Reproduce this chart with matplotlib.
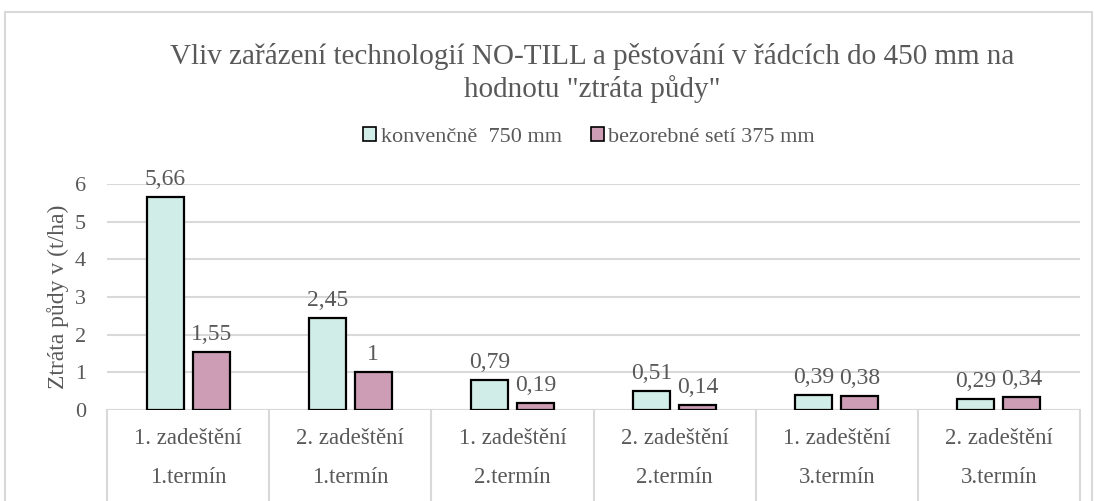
import matplotlib
matplotlib.use("Agg")
import matplotlib.pyplot as plt
from matplotlib.patches import Patch, Rectangle
from matplotlib.transforms import blended_transform_factory
import numpy as np

plt.rcParams['font.family'] = ['Liberation Serif', 'DejaVu Serif']

inner_labels = ["1. zadeštění", "2. zadeštění", "1. zadeštění", "2. zadeštění", "1. zadeštění", "2. zadeštění"]
outer_labels = ["1.termín", "1.termín", "2.termín", "2.termín", "3.termín", "3.termín"]
series_names = ["konvenčně  750 mm", "bezorebné setí 375 mm"]
conv = [5.66, 2.45, 0.79, 0.51, 0.39, 0.29]
bezor = [1.55, 1.0, 0.19, 0.14, 0.38, 0.34]
conv_labels = ["5,66", "2,45", "0,79", "0,51", "0,39", "0,29"]
bezor_labels = ["1,55", "1", "0,19", "0,14", "0,38", "0,34"]

colors = ["#D0EDE8", "#CC9DB5"]
grey = "#595959"
W, H = 1094, 501

fig = plt.figure(figsize=(W / 100, H / 100), dpi=100)
ax = fig.add_axes([107 / W, (H - 410) / H, (1080 - 107) / W, (410 - 184) / H])

x = np.arange(len(conv))
bw = 0.228
off = 0.142
b1 = ax.bar(x - off, conv, bw, color=colors[0], edgecolor="black", linewidth=1.6, zorder=3)
b2 = ax.bar(x + off, bezor, bw, color=colors[1], edgecolor="black", linewidth=1.6, zorder=3)

for bars, labs in ((b1, conv_labels), (b2, bezor_labels)):
    for r, lab in zip(bars, labs):
        ax.annotate(lab, (r.get_x() + r.get_width() / 2, r.get_height()),
                    xytext=(0, 5), textcoords="offset points", ha="center", va="bottom",
                    fontsize=17, color=grey, zorder=4)

ax.set_xlim(-0.5, len(conv) - 0.5)
ax.set_ylim(0, 6)
ax.set_yticks(range(0, 7))
ax.tick_params(axis="y", length=0, labelsize=16, labelcolor=grey, pad=15)
ax.set_xticks([])
ax.yaxis.grid(True, color="#D9D9D9", linewidth=1.5, zorder=0)
for s in ax.spines.values():
    s.set_visible(False)
ax.axhline(0, color="#D9D9D9", linewidth=1.5, zorder=1)

trans = blended_transform_factory(ax.transData, ax.transAxes)
for i in range(len(conv) + 1):
    ax.plot([i - 0.5, i - 0.5], [0, -0.5], color="#D9D9D9", linewidth=1.5,
            transform=trans, clip_on=False)
for i in range(len(conv)):
    ax.text(i, -0.125, inner_labels[i], transform=trans, ha="center", va="center",
            fontsize=16.5, color=grey)
    ax.text(i, -0.30, outer_labels[i], transform=trans, ha="center", va="center",
            fontsize=16.5, color=grey)

ax.set_ylabel("Ztráta půdy v (t/ha)", fontsize=17, color=grey, labelpad=4)

fig.text(592 / W, 1 - 73 / H, 'Vliv zařázení technologií NO-TILL a pěstování v řádcích do 450 mm na\nhodnotu "ztráta půdy"',
         ha="center", va="center", fontsize=21, color=grey, linespacing=1.2)

handles = [Patch(facecolor=colors[0], edgecolor="black", linewidth=1.2),
           Patch(facecolor=colors[1], edgecolor="black", linewidth=1.2)]
fig.legend(handles, series_names, loc="center", bbox_to_anchor=(589 / W, 1 - 137 / H),
           ncol=2, frameon=False, fontsize=16, labelcolor=grey, handlelength=0.6,
           handleheight=0.6, handletextpad=0.2, columnspacing=1.3)

fig.patches.append(Rectangle((5 / W, -0.1), (1092 - 5) / W, 1.1 - 12 / H,
                             transform=fig.transFigure, fill=False,
                             edgecolor="#D9D9D9", linewidth=1.5))

fig.savefig("out.png", dpi=100, facecolor="white")
